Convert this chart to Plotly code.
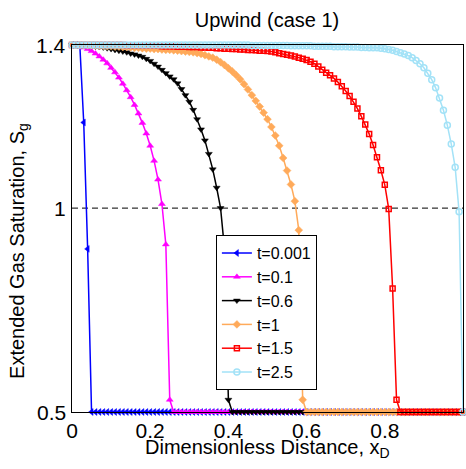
import plotly.graph_objects as go

# Dimensionless distance grid (cell positions)
x_d = [i / 100 for i in range(101)]

# Extended gas saturation
sg_t0001 = [1.400, 1.400, 1.399, 1.210, 0.900, 0.500] + [0.500] * 95

sg_t01 = [1.400, 1.399, 1.397, 1.394, 1.390, 1.385, 1.379, 1.372, 1.364, 1.355,
          1.344, 1.333, 1.320, 1.305, 1.289, 1.272, 1.253, 1.232, 1.209, 1.183,
          1.153, 1.116, 1.070, 1.010, 0.911, 0.530, 0.500] + [0.500] * 74

sg_t06 = [1.400, 1.400, 1.399, 1.399, 1.398, 1.397, 1.396, 1.395, 1.394, 1.392,
          1.390, 1.388, 1.386, 1.384, 1.382, 1.379, 1.377, 1.374, 1.371, 1.366,
          1.361, 1.354, 1.347, 1.339, 1.331, 1.323, 1.316, 1.306, 1.292, 1.277,
          1.261, 1.241, 1.218, 1.193, 1.166, 1.133, 1.095, 1.050, 1.000, 0.900,
          0.530, 0.500] + [0.500] * 59

sg_t1 = [1.400, 1.400, 1.400, 1.400, 1.399, 1.399, 1.399, 1.398, 1.398, 1.397,
         1.397, 1.396, 1.396, 1.395, 1.395, 1.394, 1.393, 1.393, 1.392, 1.391,
         1.391, 1.390, 1.390, 1.389, 1.388, 1.388, 1.387, 1.386, 1.385, 1.384,
         1.383, 1.382, 1.380, 1.378, 1.375, 1.372, 1.369, 1.364, 1.358, 1.351,
         1.343, 1.335, 1.326, 1.316, 1.304, 1.291, 1.277, 1.263, 1.249, 1.234,
         1.218, 1.199, 1.178, 1.153, 1.123, 1.092, 1.058, 1.017, 0.946, 0.530,
         0.500] + [0.500] * 40

sg_t15 = [1.400] * 10 + [
         1.400, 1.400, 1.400, 1.400, 1.399, 1.399, 1.399, 1.399, 1.399, 1.398,
         1.398, 1.398, 1.398, 1.397, 1.397, 1.397, 1.397, 1.396, 1.396, 1.396,
         1.395, 1.395, 1.395, 1.394, 1.394, 1.393, 1.393, 1.392, 1.392, 1.391,
         1.391, 1.390, 1.390, 1.389, 1.389, 1.388, 1.388, 1.387, 1.386, 1.386,
         1.385, 1.384, 1.382, 1.380, 1.378, 1.376, 1.374, 1.372, 1.369, 1.366,
         1.363, 1.359, 1.354, 1.347, 1.339, 1.332, 1.326, 1.318, 1.309, 1.299,
         1.287, 1.275, 1.261, 1.244, 1.225, 1.205, 1.182, 1.155, 1.125, 1.093,
         1.057, 0.998, 0.803, 0.530, 0.500] + [0.500] * 16

sg_t25 = [1.400] * 46 + [1.399, 1.399, 1.399, 1.399,
         1.399, 1.399, 1.399, 1.399, 1.399, 1.399, 1.398, 1.398, 1.398, 1.398,
         1.398, 1.398, 1.397, 1.397, 1.397, 1.397, 1.397, 1.396, 1.396, 1.396,
         1.396, 1.395, 1.395, 1.395, 1.394, 1.394, 1.393, 1.393, 1.393, 1.392,
         1.391, 1.389, 1.387, 1.384, 1.381, 1.378, 1.374, 1.369, 1.362, 1.354,
         1.344, 1.331, 1.315, 1.295, 1.270, 1.240, 1.203, 1.157, 1.100, 0.991,
         0.500]

series_names = ["t=0.001", "t=0.1", "t=0.6", "t=1", "t=1.5", "t=2.5"]
series_values = [sg_t0001, sg_t01, sg_t06, sg_t1, sg_t15, sg_t25]
series_colors = ["#0000ff", "#ff00ff", "#000000", "#ffaa5a", "#ff0000", "#a3e2f7"]
series_symbols = ["triangle-left", "triangle-up", "triangle-down", "diamond",
                  "square-open", "circle-open"]
series_sizes = [6, 6, 6, 6, 5, 6]

ref_level = 1.0
x_ticks = [0, 0.2, 0.4, 0.6, 0.8, 1]
x_tick_labels = ["0", "0.2", "0.4", "0.6", "0.8", "1"]
y_ticks = [0.5, 1, 1.4]
y_tick_labels = ["0.5", "1", "1.4"]

fig = go.Figure()

fig.add_trace(go.Scatter(
    x=[x_ticks[0], x_ticks[-1]], y=[ref_level, ref_level], mode="lines",
    line=dict(color="black", width=1, dash="6px,4px"), showlegend=False,
    hoverinfo="skip"))

for name, vals, col, sym, sz in zip(series_names, series_values, series_colors,
                                    series_symbols, series_sizes):
    open_marker = sym.endswith("open")
    fig.add_trace(go.Scatter(
        x=x_d, y=vals, mode="lines+markers", name=name,
        line=dict(color=col, width=1.5),
        marker=dict(symbol=sym, size=sz, color=col,
                    line=dict(color=col, width=1.5 if open_marker else 0.5)),
        cliponaxis=False))

font_family = "Liberation Sans, Arial, sans-serif"

# y tick labels as annotations (placed just left of the axis)
y_tick_annotations = [
    dict(text=lab, xref="paper", yref="y", x=-0.01, y=val, xanchor="right",
         yanchor="middle", showarrow=False, font=dict(size=21))
    for val, lab in zip(y_ticks, y_tick_labels)
]

fig.update_layout(
    width=466, height=469,
    margin=dict(l=72, r=3, t=45, b=57, autoexpand=False),
    paper_bgcolor="white", plot_bgcolor="white",
    font=dict(family=font_family, size=20, color="black"),
    title=dict(text="Upwind (case 1)", x=0.573, xanchor="center",
               y=0.957, yanchor="middle", font=dict(size=20)),
    showlegend=True,
    legend=dict(x=0.368, y=0.482, xanchor="left", yanchor="top",
                bgcolor="white", bordercolor="black", borderwidth=1,
                font=dict(size=16), itemwidth=30, tracegroupgap=0),
    annotations=[
        dict(text="Dimensionless Distance, x<sub>D</sub>", xref="paper",
             yref="paper", x=0.5, y=-0.1, xanchor="center", yanchor="middle",
             showarrow=False, font=dict(size=20)),
        dict(text="Extended Gas Saturation, S<sub>g</sub>", xref="paper",
             yref="paper", x=-0.137, y=0.44, xanchor="center", yanchor="middle",
             textangle=-90, showarrow=False, font=dict(size=20)),
    ] + y_tick_annotations,
)

fig.update_xaxes(
    range=[0, 1], tickvals=x_ticks, ticktext=x_tick_labels, automargin=False,
    showline=True, linecolor="black", linewidth=1, mirror=True,
    showgrid=False, zeroline=False, ticks="", tickfont=dict(size=21))

fig.update_yaxes(
    range=[0.5, 1.4], tickvals=y_ticks, showticklabels=False, automargin=False,
    showline=True, linecolor="black", linewidth=1, mirror=True,
    showgrid=False, zeroline=False, ticks="")

# remove the browser's default 8px page margin so the figure fills the window
fig.write_html("out.html",
               config={"displayModeBar": False},
               post_script="document.body.style.margin='0';"
                           "document.body.style.overflow='hidden';")
